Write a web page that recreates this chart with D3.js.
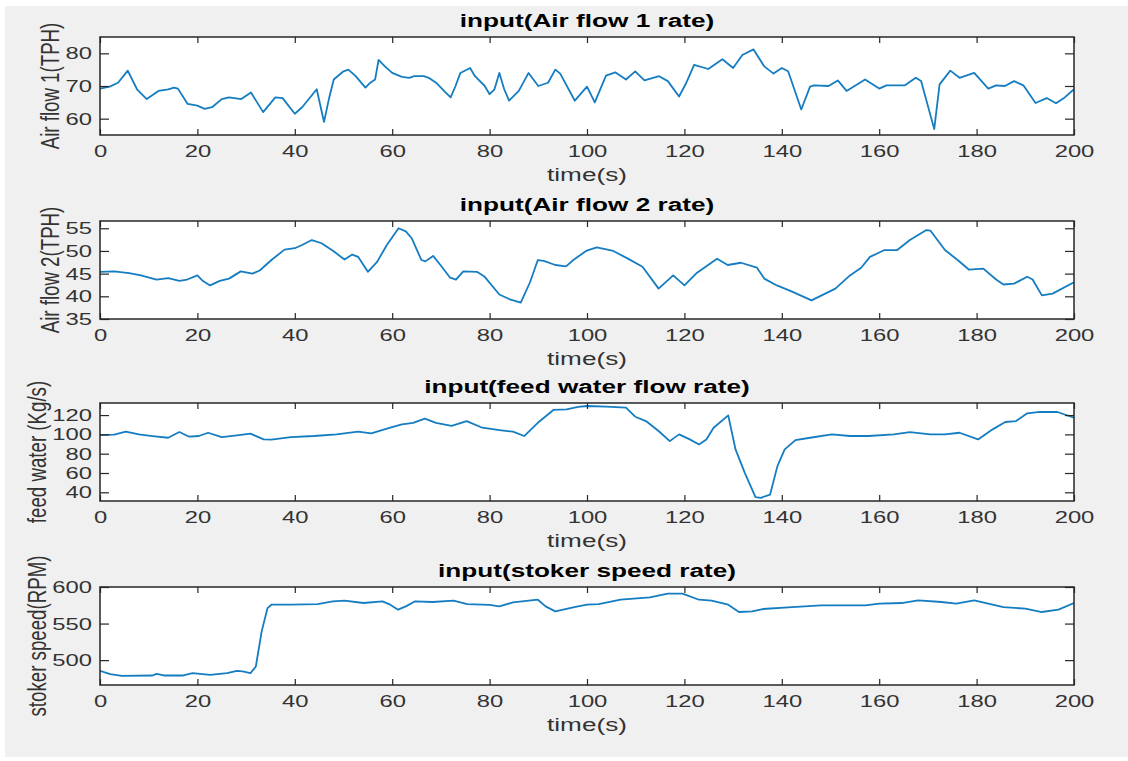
<!DOCTYPE html>
<html>
<head>
<meta charset="utf-8">
<script src="https://cdn.jsdelivr.net/npm/d3@7/dist/d3.min.js"></script>
<style>
  html, body { margin: 0; padding: 0; background: #ffffff; }
  svg { display: block; }
</style>
</head>
<body>
<svg id="chart" width="1128" height="761"></svg>
<script>
// ---- shared time axis ----
const timeLimits = [0, 200];
const timeTicks = [0, 20, 40, 60, 80, 100, 120, 140, 160, 180, 200];

// ---- Air flow 1 (TPH) ----
const airFlow1Time = [0, 2, 3.7, 5.7, 7.6, 9.6, 12, 14, 15.2, 16, 18, 20, 21.5, 23, 25, 26.5, 29, 31, 33.5, 36,
  37.5, 40, 41.5, 44.5, 46, 47, 48, 50, 51, 52.5, 54.5, 55.5, 56.5, 57.2, 58.5, 60, 62, 63.5, 64.5, 66.5,
  67.5, 69, 71, 72, 73, 74, 76, 77, 79, 80, 81, 82, 83, 84, 86, 88, 89, 90, 92, 93.5,
  94.5, 97.5, 100, 101.6, 103.9, 105.8, 108, 109.9, 111.8, 114.8, 116.6, 118.9, 120.4, 122, 124.9, 127.8, 130, 131.9, 134.2, 136.4,
  138.3, 140, 141.3, 144, 145.8, 146.6, 149.6, 151.5, 153.3, 157.1, 160, 161.5, 165.3, 167.5, 168.6, 171.3, 172.4, 174.6, 176.5, 179.5,
  182.4, 184, 185.8, 187.7, 189.6, 192.1, 194.4, 196.3, 198.1, 200];
const airFlow1Values = [69.2, 69.8, 71, 74.7, 69, 66, 68.5, 69, 69.5, 69.2, 64.5, 64, 63, 63.5, 66, 66.5, 66, 68, 62, 66.5,
  66.3, 61.5, 63.5, 69, 59, 66, 72, 74.5, 75, 73, 69.5, 71, 72, 78, 76, 74, 72.8, 72.5, 73, 73,
  72.5, 71, 68, 66.5, 70, 74, 75.5, 73, 70, 67.5, 69, 74, 69, 65.5, 68.5, 74, 72, 70, 71, 75,
  73.8, 65.5, 69.8, 65, 73.2, 74.2, 72, 74.5, 71.7, 73, 71.5, 66.8, 71, 76.5, 75.2, 78.2, 75.5, 79.5, 81.2, 76,
  73.8, 75.5, 74.5, 62.8, 69.8, 70.2, 70, 71.7, 68.5, 72, 69.2, 70.2, 70.2, 72.5, 71.5, 56.8, 70.5, 74.7, 72.5, 74,
  69.2, 70.2, 70, 71.5, 70.2, 64.8, 66.3, 64.7, 66.5, 69];
const airFlow1Limits = [55, 85];
const airFlow1Ticks = [60, 70, 80];

// ---- Air flow 2 (TPH) ----
const airFlow2Time = [0, 2.9, 6, 8.4, 11.6, 14, 16.3, 17.9, 20, 21, 22.6, 24.6, 26.5, 28.9, 31.3, 32.8, 35.2, 37.9, 40, 41.5,
  43.5, 45.5, 47.9, 50.2, 51.8, 53, 55, 56.9, 58.9, 61.3, 62.8, 64, 66, 66.8, 68.4, 69.9, 71.9, 73.1, 74.6, 77.4,
  79, 82, 84, 86.4, 88.3, 89.9, 91.1, 93.5, 95.7, 97.2, 99.8, 102, 105.4, 108.4, 111.4, 114.7, 117.7, 120, 122.6, 126.7,
  128.9, 131.6, 134.9, 136.4, 139, 142, 146.1, 151, 154, 156.3, 158.1, 161.1, 163.7, 166.3, 169.7, 170.5, 173.5, 176.1, 178.4, 181.4,
  184, 185.5, 187.7, 190.4, 191.5, 193.4, 195.6, 200];
const airFlow2Values = [45.4, 45.5, 45.1, 44.6, 43.7, 44, 43.4, 43.7, 44.6, 43.5, 42.4, 43.4, 43.9, 45.5, 45, 45.7, 48, 50.3, 50.6, 51.3,
  52.4, 51.7, 50, 48.1, 49.2, 48.7, 45.4, 47.6, 51.3, 55, 54.3, 52.8, 48, 47.7, 48.9, 46.9, 44.1, 43.7, 45.5, 45.4,
  44.3, 40.4, 39.4, 38.6, 43.1, 48, 47.8, 46.9, 46.6, 48, 50, 50.8, 50, 48.3, 46.5, 41.7, 44.6, 42.4, 45.2, 48.3,
  46.9, 47.4, 46.3, 43.9, 42.4, 41.1, 39.1, 41.7, 44.6, 46.3, 48.7, 50.2, 50.2, 52.4, 54.6, 54.5, 50.2, 48, 45.9, 46.1,
  43.7, 42.6, 42.8, 44.3, 43.7, 40.2, 40.6, 43.1];
const airFlow2Limits = [35, 56.6];
const airFlow2Ticks = [35, 40, 45, 50, 55];

// ---- feed water (Kg/s) ----
const feedWaterTime = [0, 2.9, 5.3, 8, 10.8, 14, 16.3, 18.3, 20.3, 22.2, 25, 28.1, 30.9, 31.7, 33.6, 35.2, 39.2, 43.9, 48.6, 53,
  55.7, 59.6, 62, 64.3, 66.7, 69, 72.2, 75.3, 78.5, 82.4, 84.8, 87.1, 89.9, 93.1, 95.8, 98.2, 100, 103.9, 108, 109.9,
  112.1, 114.7, 117, 118.9, 121.1, 123, 124.5, 126, 129, 130.5, 132.4, 134.6, 135.7, 137.6, 139.1, 140.6, 142.8, 145.8, 150.3, 154,
  157.8, 163, 166.3, 170.5, 173.5, 176.5, 180.3, 183.3, 185.9, 188.1, 190.4, 193, 196.6, 200];
const feedWaterValues = [99.3, 99.7, 102.8, 100, 98.3, 96.5, 102.4, 97.6, 98.3, 101.7, 97.2, 99, 100.7, 99, 94.8, 94.5, 97.2, 98.3, 100, 102.8,
  101, 106.9, 110.4, 112, 116.3, 112, 108.7, 113.8, 106.9, 104.2, 102.8, 98.3, 112, 125.3, 126, 128.4, 129.4, 128.7, 127.7, 118.3,
  113.8, 103.5, 93, 100, 94.8, 89.6, 94.8, 106.9, 119.7, 84.4, 60.2, 35, 34.3, 37.7, 67.1, 84.4, 94.1, 96.5, 100, 98.3,
  98.3, 100, 102.4, 100, 100, 101.7, 94.8, 105.2, 112.8, 113.8, 121.8, 123.2, 123.2, 117.3];
const feedWaterLimits = [31, 132.5];
const feedWaterTicks = [40, 60, 80, 100, 120];

// ---- stoker speed (RPM) ----
const stokerTime = [0, 2.1, 4.5, 10.8, 11.6, 13.1, 17.1, 19, 22.6, 26.1, 28.1, 29.3, 30.9, 32, 33.2, 34.4, 35.2, 39.2, 44.7, 47.8,
  50.2, 54.1, 58, 59.6, 61.2, 62.8, 64.7, 68.3, 72.6, 75.4, 80, 82, 84.8, 89.9, 91.5, 93.5, 97.4, 100, 102.4, 106.9,
  112.9, 116.6, 119.6, 123, 125.6, 129, 131.2, 133.9, 136.1, 142.1, 148.1, 157.1, 160.1, 164.6, 168, 172.8, 175.8, 179.5, 185.5, 190,
  193.4, 196.8, 200];
const stokerValues = [485.4, 480.8, 478.5, 479, 481.3, 479, 479, 482.2, 479.9, 482.2, 485.4, 484.5, 482.2, 491.3, 539.3, 571.2, 575.8, 575.8, 576.7, 580.4,
  581.3, 578.1, 580.4, 575.8, 569, 573.5, 580.4, 579.5, 581.3, 576.7, 575.5, 573.5, 579, 582.6, 573.5, 566.7, 572.6, 575.8, 576.7, 582.6,
  585.8, 590.9, 590.9, 582.6, 581.3, 575.8, 565.8, 566.7, 569.9, 572.6, 574.9, 574.9, 577.2, 578.1, 581.7, 579.5, 577.2, 581.7, 572.6, 570.3,
  565.8, 569, 578.1];
const stokerLimits = [466, 600];
const stokerTicks = [500, 550, 600];

// ---- subplot definitions ----
const panels = [
  { title: "input(Air flow 1 rate)", ylabel: "Air flow 1(TPH)", time: airFlow1Time, values: airFlow1Values, limits: airFlow1Limits, ticks: airFlow1Ticks, top: 37 },
  { title: "input(Air flow 2 rate)", ylabel: "Air flow 2(TPH)", time: airFlow2Time, values: airFlow2Values, limits: airFlow2Limits, ticks: airFlow2Ticks, top: 221 },
  { title: "input(feed water flow rate)", ylabel: "feed water (Kg/s)", time: feedWaterTime, values: feedWaterValues, limits: feedWaterLimits, ticks: feedWaterTicks, top: 403 },
  { title: "input(stoker speed rate)", ylabel: "stoker speed(RPM)", time: stokerTime, values: stokerValues, limits: stokerLimits, ticks: stokerTicks, top: 587 }
];

// ---- layout & style ----
const W = 1128, H = 761;
const plotLeft = 100, plotRight = 1074, plotHeight = 98;
const SX = 1.4;                 // horizontal glyph stretch of the figure text
const FONT = "'Liberation Sans', Arial, Helvetica, sans-serif";
const TICK_FS = 17, LABEL_FS = 18.7;
const AXIS_COLOR = "#262626";
const TEXT_COLOR = "#333333";
const LINE_COLOR = "#0072BD";

const svg = d3.select("#chart");

// figure background
svg.append("rect").attr("x", 0).attr("y", 0).attr("width", W).attr("height", H).attr("fill", "#ffffff");
svg.append("rect").attr("x", 5).attr("y", 6).attr("width", W - 5).attr("height", 751).attr("fill", "#f0f0f0");

const x = d3.scaleLinear().domain(timeLimits).range([plotLeft, plotRight]);

panels.forEach((p, i) => {
  const g = svg.append("g").attr("transform", `translate(0,${p.top})`);
  const y = d3.scaleLinear().domain(p.limits).range([plotHeight, 0]);

  // axes background
  g.append("rect")
    .attr("x", plotLeft).attr("y", 0)
    .attr("width", plotRight - plotLeft).attr("height", plotHeight)
    .attr("fill", "#ffffff");

  // data line, clipped to the axes box
  const clipId = "clip" + i;
  g.append("clipPath").attr("id", clipId)
    .append("rect").attr("x", plotLeft).attr("y", 0)
    .attr("width", plotRight - plotLeft).attr("height", plotHeight);

  const line = d3.line().x(d => x(d[0])).y(d => y(d[1]));
  g.append("path")
    .datum(d3.zip(p.time, p.values))
    .attr("clip-path", `url(#${clipId})`)
    .attr("d", line)
    .attr("fill", "none")
    .attr("stroke", LINE_COLOR)
    .attr("stroke-width", 1.8)
    .attr("stroke-opacity", 0.92)
    .attr("stroke-linejoin", "round");

  // bottom axis with labels, ticks pointing inward
  const bottom = g.append("g")
    .attr("transform", `translate(0,${plotHeight})`)
    .call(d3.axisBottom(x).tickValues(timeTicks).tickSizeInner(-6).tickSizeOuter(0).tickPadding(10).tickFormat(d3.format("d")));
  // top mirror ticks
  const topAx = g.append("g")
    .call(d3.axisTop(x).tickValues(timeTicks).tickSizeInner(-6).tickSizeOuter(0).tickFormat(""));
  // left axis with labels
  const leftPad = 8;
  const left = g.append("g")
    .attr("transform", `translate(${plotLeft},0)`)
    .call(d3.axisLeft(y).tickValues(p.ticks).tickSizeInner(-9).tickSizeOuter(0).tickPadding(leftPad).tickFormat(d3.format("d")));
  // right mirror ticks
  const rightAx = g.append("g")
    .attr("transform", `translate(${plotRight},0)`)
    .call(d3.axisRight(y).tickValues(p.ticks).tickSizeInner(-9).tickSizeOuter(0).tickFormat(""));

  [bottom, topAx, left, rightAx].forEach(a => {
    a.select(".domain").remove();
    a.selectAll("line").attr("stroke", AXIS_COLOR).attr("stroke-width", 1.2);
    a.attr("font-family", null).attr("font-size", null);
  });

  bottom.selectAll("text")
    .attr("font-family", FONT).attr("font-size", TICK_FS).attr("fill", TEXT_COLOR)
    .attr("transform", `scale(${SX},1)`);
  left.selectAll("text")
    .attr("font-family", FONT).attr("font-size", TICK_FS).attr("fill", TEXT_COLOR)
    .attr("x", -leftPad / SX)
    .attr("transform", `scale(${SX},1)`);

  // axes box
  g.append("rect")
    .attr("x", plotLeft).attr("y", 0)
    .attr("width", plotRight - plotLeft).attr("height", plotHeight)
    .attr("fill", "none").attr("stroke", AXIS_COLOR).attr("stroke-width", 1.5);

  const cx = (plotLeft + plotRight) / 2;

  // title
  g.append("text")
    .attr("transform", `translate(${cx},-10) scale(${SX},1)`)
    .attr("text-anchor", "middle")
    .attr("font-family", FONT).attr("font-size", LABEL_FS).attr("font-weight", "bold")
    .attr("fill", "#000000")
    .text(p.title);

  // x label
  g.append("text")
    .attr("transform", `translate(${cx},${plotHeight + 46}) scale(${SX},1)`)
    .attr("text-anchor", "middle")
    .attr("font-family", FONT).attr("font-size", LABEL_FS)
    .attr("fill", TEXT_COLOR)
    .text("time(s)");

  // y label, placed just left of the widest tick label
  const lb = left.node().getBBox();
  const labelsLeft = plotLeft + lb.x;
  g.append("text")
    .attr("transform", `translate(${labelsLeft - 6.5},${plotHeight / 2}) scale(${SX},1) rotate(-90)`)
    .attr("text-anchor", "middle")
    .attr("font-family", FONT).attr("font-size", LABEL_FS)
    .attr("fill", TEXT_COLOR)
    .text(p.ylabel);
});
</script>
</body>
</html>
